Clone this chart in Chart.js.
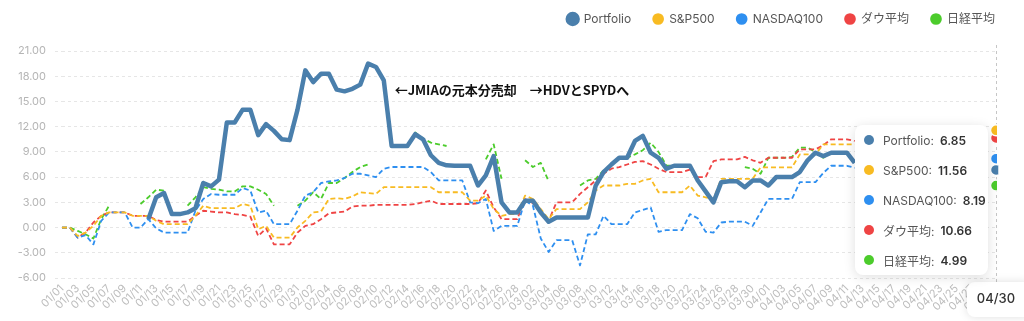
<!DOCTYPE html>
<html>
<head>
<meta charset="utf-8">
<script src="https://cdn.jsdelivr.net/npm/chart.js@4.4.1/dist/chart.umd.min.js"></script>
<style>
  html, body { margin: 0; padding: 0; background: #fff; }
  #wrap { position: relative; width: 1024px; height: 321px; overflow: hidden; }
  #tip {
    position: absolute; display: none; width: 133px; background: #fff; border-radius: 8px;
    box-shadow: 0 2px 12px rgba(0, 0, 0, 0.13);
    font-family: Inter, "Noto Sans CJK JP", sans-serif; font-size: 12px; color: #555;
  }
  #tip .row { display: flex; align-items: center; height: 30px; padding-left: 9px; white-space: nowrap; }
  #tip .row i { width: 10px; height: 10px; border-radius: 50%; margin-right: 9px; }
  #tip .row b { margin-left: 6px; color: #333; font-weight: 600; }
</style>
</head>
<body>
<div id="wrap">
  <canvas id="chart" width="1024" height="321"></canvas>
  <div id="tip"></div>
</div>
<script>
/* --------------- Categories: every day 01/01 - 04/30 --------------------- */
const monthDays = [31, 28, 31, 30];
const labels = [];
monthDays.forEach((n, m) => {
    for (let d = 1; d <= n; d++) {
        labels.push(String(m + 1).padStart(2, "0") + "/" + String(d).padStart(2, "0"));
    }
});

/* --------------- Series (% change) --------------------- */
const portfolio = [
    null, null, null, null, null, null, null, null, null, null,
    null, 1.0, 3.6, 4.1, 1.6, 1.6, 1.8, 2.3, 5.3, 4.9,
    5.7, 12.5, 12.5, 14.0, 14.0, 11.0, 12.3, 11.5, 10.5, 10.4,
    14.0, 18.7, 17.3, 18.3, 18.3, 16.4, 16.2, 16.5, 17.0, 19.5,
    19.1, 17.5, 9.7, 9.7, 9.7, 11.1, 10.5, 8.6, 7.7, 7.4,
    7.35, 7.35, 7.35, 5.0, 6.2, 8.5, 3.0, 1.8, 1.8, 3.2,
    3.2, 1.8, 0.7, 1.2, 1.2, 1.2, 1.2, 1.2, 5.0, 6.6,
    7.5, 8.3, 8.3, 10.3, 10.9, 8.9, 8.3, 7.0, 7.35, 7.35,
    7.35, 5.6, 4.3, 3.0, 5.4, 5.5, 5.5, 4.8, 5.6, 5.6,
    5.0, 6.0, 6.0, 6.0, 6.6, 8.0, 8.9, 8.5, 8.9, 8.9,
    8.9, 7.7, null, null, null, null, null, null, null, null,
    null, null, null, null, null, null, null, null, null, 6.85
];
const sp500 = [
    0, 0, -1.0, -0.6, 0.2, 1.4, 1.8, 1.8, 1.8, 1.4,
    1.4, 1.4, 0.8, 0.4, 0.4, 0.4, 0.4, 1.4, 2.6, 2.3,
    2.3, 2.3, 2.3, 2.8, 2.6, -0.2, 0.2, -1.2, -1.2, -1.2,
    0.0, 0.8, 1.8, 1.9, 3.4, 3.5, 3.4, 3.7, 4.2, 4.1,
    4.0, 4.8, 4.8, 4.8, 4.8, 4.8, 4.8, 4.8, 4.2, 4.2,
    4.2, 4.2, 3.2, 3.2, 3.8, 2.2, 1.4, 1.6, 1.6, 3.8,
    3.4, 2.2, 1.0, 2.2, 2.2, 2.2, 2.2, 3.0, 4.4, 5.0,
    5.0, 5.0, 5.2, 5.2, 5.6, 5.8, 4.2, 4.2, 4.2, 4.2,
    5.0, 3.8, 3.6, 3.4, 5.8, 5.8, 5.8, 5.8, 5.8, 7.15,
    7.15, 7.15, 7.15, 7.15, 8.7, 8.7, 8.7, 9.9, 9.9, 9.9,
    9.9, 9.9, null, null, null, null, null, null, null, null,
    null, null, null, null, null, null, null, null, null, 11.56
];
const nasdaq100 = [
    0, 0, -1.2, -0.9, -2.0, 0.8, 1.8, 1.8, 1.8, 0.0,
    0.0, 1.0, -0.1, -0.6, -0.6, -0.6, -0.6, 2.0, 3.4, 4.0,
    3.9, 3.9, 3.9, 4.7, 4.4, 1.8, 2.0, 0.4, 0.4, 0.4,
    2.0, 3.8, 4.2, 5.3, 5.5, 5.6, 5.9, 6.4, 6.4, 6.2,
    6.0, 7.0, 7.2, 7.2, 7.2, 7.2, 7.2, 6.6, 5.6, 5.6,
    5.6, 5.6, 3.0, 2.9, 3.4, -0.4, 0.2, 0.2, 0.2, 3.2,
    2.6, -1.3, -2.9, -1.5, -1.5, -1.5, -4.5, -0.8, -0.8, 1.4,
    0.4, 0.4, 0.4, 1.8, 2.1, 2.4, -0.5, -0.3, -0.3, -0.3,
    1.6, 1.1, -0.5, -0.6, 0.6, 0.7, 0.7, 0.7, 0.2, 1.8,
    3.4, 3.4, 3.4, 3.4, 5.4, 5.4, 5.4, 6.5, 7.35, 7.35,
    7.35, 7.1, null, null, null, null, null, null, null, null,
    null, null, null, null, null, null, null, null, null, 8.19
];
const dow = [
    0, 0, -1.2, -0.6, 0.6, 1.4, 1.8, 1.8, 1.8, 1.4,
    1.4, 1.4, 0.9, 0.7, 0.7, 0.7, 0.7, 1.4, 2.0, 1.9,
    1.8, 1.8, 1.6, 1.5, 1.3, -1.0, -0.1, -2.0, -2.0, -2.0,
    -0.6, 0.2, 0.4, 1.0, 1.7, 1.8, 1.9, 2.5, 2.6, 2.6,
    2.7, 2.7, 2.7, 2.7, 2.7, 2.8, 3.0, 3.2, 2.8, 2.8,
    2.8, 2.8, 2.8, 2.9, 4.4, 2.4, 1.0, 1.0, 1.0, 3.4,
    2.9, 1.8, 0.8, 3.0, 3.0, 3.0, 4.0, 4.8, 5.6, 6.4,
    7.0, 7.2, 7.5, 7.8, 7.9, 7.5, 7.0, 6.6, 6.6, 6.6,
    6.9, 6.0, 6.0, 7.9, 8.1, 8.1, 8.1, 8.4, 8.0, 7.7,
    8.3, 8.3, 8.3, 8.3, 9.3, 9.3, 9.3, 9.8, 10.5, 10.5,
    10.5, 10.3, null, null, null, null, null, null, null, null,
    null, null, null, null, null, null, null, null, null, 10.66
];
const nikkei = [
    0, 0, -0.4, -0.8, -1.3, 1.0, 2.6, null, null, null,
    2.8, 3.6, 4.5, 4.4, null, null, 2.6, 3.6, 4.8, 4.6,
    4.5, 4.3, 4.3, 4.9, 4.9, 4.5, 4.0, 2.6, null, null,
    2.6, 3.2, 4.2, 3.4, 5.3, 5.3, 5.9, 6.6, 7.2, 7.5,
    null, null, null, null, 9.5, 11.3, 10.6, 10.1, 9.9, 9.7,
    null, null, null, null, 8.1, 9.9, 5.8, null, null, 8.0,
    7.2, 7.7, 5.5, null, null, null, 5.0, 5.6, 5.8, 6.8,
    7.4, 8.3, 8.3, 8.7, 9.2, 10.1, 9.0, 7.4, 7.35, 7.35,
    7.35, 5.6, 4.3, 3.1, 5.4, null, null, 7.2, 7.0, 6.4,
    8.3, 8.3, 8.3, 8.4, 9.5, 9.5, 9.0, 8.3, 8.9, 8.9,
    8.9, 7.7, null, null, null, null, null, null, null, null,
    null, null, null, null, null, null, null, null, null, 4.99
];

const seriesNames = ["Portfolio", "S&P500", "NASDAQ100", "ダウ平均", "日経平均"];
const seriesData = [portfolio, sp500, nasdaq100, dow, nikkei];
const seriesColors = ["#4a7fac", "#f8bb22", "#2e8ff0", "#ef4444", "#4ccc2c"];

/* --------------- Y ticks --------------------- */
const yMin = -6;
const yMax = 21;
const yStep = 3;

/* --------------- Note on the chart --------------------- */
const noteText = "←JMIAの元本分売却　→HDVとSPYDへ";
const noteAt = ["02/12", 16.4];

Chart.defaults.font.family = "Inter, 'Noto Sans CJK JP', sans-serif";

/* --------------- Plugins --------------------- */
// more room under the legend, and push the legend to the right edge
const legendGap = {
    id: "legendGap",
    beforeInit(chart) {
        const fit = chart.legend.fit;
        chart.legend.fit = function () {
            fit.call(this);
            this.height += 16;
        };
    },
    afterLayout(chart) {
        chart.legend.right += 21;
    },
};

const crosshair = {
    id: "crosshair",
    beforeDatasetsDraw(chart) {
        const act = chart.getActiveElements();
        if (!act.length) return;
        const x = Math.round(act[0].element.x) + 0.5;
        const { ctx, chartArea } = chart;
        ctx.save();
        ctx.strokeStyle = "#c6c6c6";
        ctx.lineWidth = 1;
        ctx.setLineDash([3, 3]);
        ctx.beginPath();
        ctx.moveTo(x, chartArea.top - 6);
        ctx.lineTo(x, chartArea.bottom + 4);
        ctx.stroke();
        ctx.restore();
    },
    afterDraw(chart) {
        const act = chart.getActiveElements();
        if (!act.length) return;
        const x = act[0].element.x;
        const { ctx, chartArea } = chart;
        ctx.save();
        ctx.shadowColor = "rgba(0,0,0,0.13)";
        ctx.shadowBlur = 10;
        ctx.fillStyle = "#fff";
        ctx.beginPath();
        ctx.roundRect(x - 29, chartArea.bottom + 4, 64, 35, 8);
        ctx.fill();
        ctx.shadowColor = "transparent";
        ctx.fillStyle = "#333";
        ctx.font = "500 13px Inter, sans-serif";
        ctx.textAlign = "center";
        ctx.textBaseline = "middle";
        ctx.fillText(chart.data.labels[act[0].index], x, chartArea.bottom + 21);
        ctx.restore();
    },
};

const note = {
    id: "note",
    afterDatasetsDraw(chart) {
        const { ctx, scales } = chart;
        ctx.save();
        ctx.font = "bold 13px 'Noto Sans CJK JP', sans-serif";
        ctx.fillStyle = "#111";
        ctx.textBaseline = "middle";
        ctx.fillText(noteText, scales.x.getPixelForValue(labels.indexOf(noteAt[0])) + 3, scales.y.getPixelForValue(noteAt[1]));
        ctx.restore();
    },
};

/* --------------- HTML tooltip --------------------- */
const externalTip = (context) => {
    const { chart, tooltip } = context;
    const el = document.getElementById("tip");
    if (tooltip.opacity === 0 || !tooltip.dataPoints) {
        el.style.display = "none";
        return;
    }
    el.innerHTML = tooltip.dataPoints.map((p) =>
        '<div class="row"><i style="background:' + seriesColors[p.datasetIndex] + '"></i><span>' +
        p.dataset.label + ':</span><b>' + p.formattedValue + "</b></div>"
    ).join("");
    el.style.display = "block";
    el.style.left = (tooltip.caretX - 141) + "px";
    el.style.top = (chart.chartArea.top + 74) + "px";
};

/* --------------- Chart --------------------- */
const datasets = seriesNames.map((name, i) => ({
    label: name,
    data: seriesData[i],
    borderColor: seriesColors[i],
    backgroundColor: seriesColors[i],
    borderWidth: i === 0 ? 4.5 : 1.8,
    borderDash: i === 0 ? [] : [5, 3],
    borderJoinStyle: "round",
    pointRadius: 0,
    pointHoverRadius: 5.5,
    pointHoverBorderWidth: 1.5,
    pointHoverBorderColor: "#ffffff",
    pointHoverBackgroundColor: seriesColors[i],
    spanGaps: false,
    tension: 0,
}));

const chart = new Chart(document.getElementById("chart"), {
    type: "line",
    data: { labels: labels, datasets: datasets },
    plugins: [legendGap, crosshair, note],
    options: {
        responsive: false,
        animation: false,
        layout: { padding: { top: -9, right: 28, left: 0, bottom: 0 } },
        interaction: { mode: "index", intersect: false },
        plugins: {
            legend: {
                position: "top",
                align: "end",
                labels: {
                    usePointStyle: true,
                    pointStyle: "circle",
                    boxWidth: 10,
                    boxHeight: 7,
                    padding: 22,
                    color: "#555",
                    font: { size: 12 },
                },
            },
            tooltip: { enabled: false, external: externalTip },
        },
        scales: {
            x: {
                grid: { display: false, drawTicks: false },
                border: { display: false },
                ticks: {
                    autoSkip: false,
                    maxRotation: 45,
                    minRotation: 45,
                    padding: 4,
                    color: "#bdbdbd",
                    font: { size: 11 },
                    callback: (v, i) => (i % 2 === 0 ? labels[i] : ""),
                },
                afterFit: (scale) => { scale.height = 43; },
            },
            y: {
                min: yMin,
                max: yMax,
                grid: {
                    color: "#e6e6e6",
                    drawTicks: true,
                    tickLength: 7,
                    tickBorderDash: [3, 3],
                    tickColor: "#e6e6e6",
                },
                border: { display: false, dash: [3, 3] },
                ticks: {
                    stepSize: yStep,
                    padding: 9,
                    color: "#b5b5b5",
                    font: { size: 11 },
                    callback: (v) => v.toFixed(2),
                },
                afterFit: (scale) => { scale.width = 62; },
            },
        },
    },
});

/* --------------- Show the last day as hovered --------------------- */
const lastIndex = labels.length - 1;
const active = datasets.map((d, i) => ({ datasetIndex: i, index: lastIndex }));
chart.setActiveElements(active);
chart.tooltip.setActiveElements(active, { x: 0, y: 0 });
chart.update();
</script>
</body>
</html>
